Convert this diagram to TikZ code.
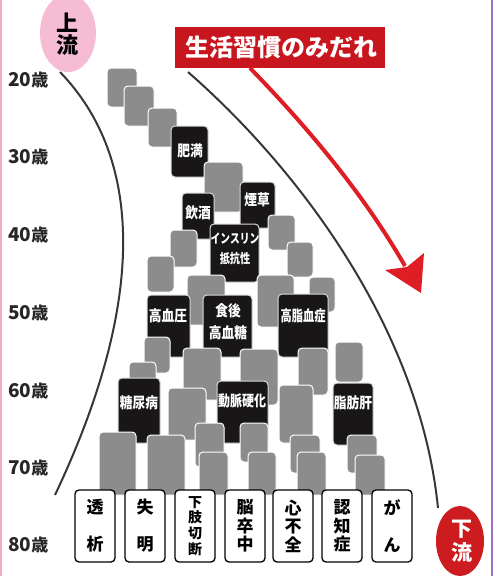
\documentclass[tikz,border=0pt]{standalone}
\usepackage{fontspec}
\setmainfont{Noto Sans CJK JP}
\usetikzlibrary{shapes.geometric}
\definecolor{boxgray}{RGB}{140,140,140}
\definecolor{boxblack}{RGB}{24,22,22}
\definecolor{bannerred}{RGB}{200,22,30}
\definecolor{arrowred}{RGB}{222,30,36}
\definecolor{pinkell}{RGB}{245,188,212}
\definecolor{lowred}{RGB}{205,28,32}
\definecolor{curvegray}{RGB}{55,55,55}
\definecolor{edgepink}{RGB}{245,170,200}
\definecolor{edgepurple}{RGB}{160,110,200}
\newcommand\cz[1]{\scalebox{0.85}[1]{#1}}
\newcommand\gbx[5]{\node[gbox,minimum width=#4pt,minimum height=#5pt] (#1) at (#2,#3) {};}
\newcommand\kbx[5]{\node[kbox,minimum width=#4pt,minimum height=#5pt] (#1) at (#2,#3) {};}
\newcommand\agetxt[1]{{\fontsize{19}{19}\selectfont #1}{\fontsize{17}{17}\selectfont 歳}}
\begin{document}
\begin{tikzpicture}[x=1pt,y=-1pt,
  gbox/.style={anchor=north west,fill=boxgray,draw=white,line width=1pt,rounded corners=4pt,inner sep=0pt,outer sep=0pt},
  kbox/.style={anchor=north west,fill=boxblack,draw=white!85!black,line width=1pt,rounded corners=4pt,inner sep=0pt,outer sep=0pt},
  ktext/.style={text=white,font=\bfseries\fontsize{15}{16}\selectfont,inner sep=0pt,align=center},
  wbox/.style={draw=black,line width=1.3pt,fill=white,rounded corners=4pt,minimum width=40pt,minimum height=72pt,inner sep=0pt,align=center},
  age/.style={anchor=west,font=\bfseries,inner sep=0pt,text=black!85},
  flow/.style={curvegray,line width=2pt}
]
\useasboundingbox (0,0) rectangle (493,576);
\fill[white] (0,0) rectangle (493,576);
\draw[edgepink,line width=1.5pt] (1,0) -- (1,576);
\draw[edgepurple,line width=1.2pt] (492,0) -- (492,576);

% labels top / bottom
\node[ellipse,fill=pinkell,minimum width=56pt,minimum height=78pt,inner sep=0pt] (upper) at (68,33) {};
\node[font=\bfseries\fontsize{22}{22}\selectfont,align=center,inner sep=0pt] (uppertxt) at (67,34) {上\\流};
\node[ellipse,fill=lowred,minimum width=48pt,minimum height=70pt,inner sep=0pt] (lower) at (460,541) {};
\node[font=\bfseries\fontsize{21}{24}\selectfont,align=center,inner sep=0pt,text=white] (lowertxt) at (462,541) {下\\流};

% banner
\node[fill=bannerred,minimum width=210pt,minimum height=41pt,inner sep=0pt,anchor=north west] (banner) at (175,27) {};
\node[text=white,font=\bfseries\fontsize{24}{24}\selectfont,inner sep=0pt] (bannertxt) at (281,47) {生活習慣のみだれ};

% flow curves
\coordinate (lstart) at (60,72);
\coordinate (lend) at (55,495);
\coordinate (rstart) at (188,72);
\coordinate (rend) at (438,508);
\draw[flow] (lstart) .. controls (145,160) and (145,305) .. (lend);
\draw[flow] (rstart) .. controls (300,170) and (420,330) .. (rend);

% red arrow
\coordinate (astart) at (250,68);
\coordinate (aend) at (405,266);
\draw[arrowred,line width=4pt] (astart) .. controls (320,140) and (370,205) .. (aend);
\fill[arrowred] (421,293) -- (385,270) -- (407,267) -- (424,253) -- cycle;

% ages
\node[age] (a20) at (8,80) {\agetxt{20}};
\node[age] (a30) at (8,157) {\agetxt{30}};
\node[age] (a40) at (8,235) {\agetxt{40}};
\node[age] (a50) at (8,313) {\agetxt{50}};
\node[age] (a60) at (8,391) {\agetxt{60}};
\node[age] (a70) at (8,468) {\agetxt{70}};
\node[age] (a80) at (8,545) {\agetxt{80}};

% boxes, back to front
\gbx{g1}{107}{68}{30}{39}
\gbx{g2}{124}{86}{30}{40}
\gbx{g3}{148}{108}{29}{39}
\kbx{k1}{171}{126}{37}{51}
\gbx{g4}{204}{162}{39}{50}
\kbx{k2}{240}{182}{35}{46}
\kbx{k3}{182}{193}{32}{46}
\gbx{g5}{268}{215}{27}{35}
\kbx{k4}{210}{224}{49}{58}
\gbx{g7}{170}{230}{27}{37}
\gbx{g6}{287}{242}{26}{35}
\gbx{g8}{147}{256}{27}{36}
\gbx{g9}{187}{275}{38}{50}
\gbx{g10}{257}{275}{37}{52}
\gbx{g11}{309}{277}{26}{35}
\kbx{k7}{278}{294}{50}{63}
\kbx{k5}{147}{295}{43}{62}
\kbx{k6}{203}{295}{49}{62}
\gbx{g12}{144}{337}{26}{36}
\gbx{g17}{335}{342}{28}{40}
\gbx{g14}{183}{348}{38}{52}
\gbx{g16}{298}{348}{30}{47}
\gbx{g15}{240}{349}{38}{56}
\gbx{g13}{129}{362}{27}{38}
\kbx{k8}{118}{378}{42}{65}
\kbx{k9}{217}{381}{51}{62}
\kbx{k10}{333}{383}{40}{62}
\gbx{g19}{279}{385}{34}{58}
\gbx{g18}{168}{388}{38}{52}
\gbx{gc}{195}{423}{29}{44}
\gbx{ge}{240}{423}{28}{39}
\gbx{ga}{99}{432}{37}{63}
\gbx{gb}{147}{435}{38}{60}
\gbx{gg}{290}{435}{30}{38}
\gbx{gi}{347}{435}{30}{38}
\gbx{gd}{199}{452}{29}{43}
\gbx{gf}{248}{452}{28}{43}
\gbx{gh}{297}{452}{29}{43}
\gbx{gj}{355}{455}{30}{40}

% black box texts
\node[ktext] (t1) at (190,151) {\cz{肥満}};
\node[ktext] (t2) at (257,200) {\cz{煙草}};
\node[ktext] (t3) at (198,213) {\cz{飲酒}};
\node[ktext,font=\bfseries\fontsize{13}{20}\selectfont] (t4) at (235,249) {\scalebox{0.75}[1]{インスリン}\\\scalebox{0.78}[1]{抵抗性}};
\node[ktext] (t5) at (168,316) {\cz{高血圧}};
\node[ktext,font=\bfseries\fontsize{15}{22}\selectfont] (t6) at (228,322) {\cz{食後}\\\cz{高血糖}};
\node[ktext] (t7) at (303,316) {\scalebox{0.75}[1]{高脂血症}};
\node[ktext] (t8) at (139,403) {\cz{糖尿病}};
\node[ktext] (t9) at (242,401) {\scalebox{0.8}[1]{動脈硬化}};
\node[ktext] (t10) at (353,403) {\cz{脂肪肝}};

% bottom outcome boxes
\node[wbox,font=\bfseries\fontsize{17}{37}\selectfont] (o1) at (95,526) {透\\析};
\node[wbox,font=\bfseries\fontsize{17}{37}\selectfont] (o2) at (145,526) {失\\明};
\node[wbox,font=\bfseries\fontsize{14}{15.7}\selectfont] (o3) at (195,526) {下\\肢\\切\\断};
\node[wbox,font=\bfseries\fontsize{17}{18.5}\selectfont] (o4) at (245,526) {脳\\卒\\中};
\node[wbox,font=\bfseries\fontsize{17}{18.5}\selectfont] (o5) at (293,526) {心\\不\\全};
\node[wbox,font=\bfseries\fontsize{17}{18.5}\selectfont] (o6) at (342,526) {認\\知\\症};
\node[wbox,font=\bfseries\fontsize{17}{37}\selectfont] (o7) at (392,526) {が\\ん};
\end{tikzpicture}
\end{document}
